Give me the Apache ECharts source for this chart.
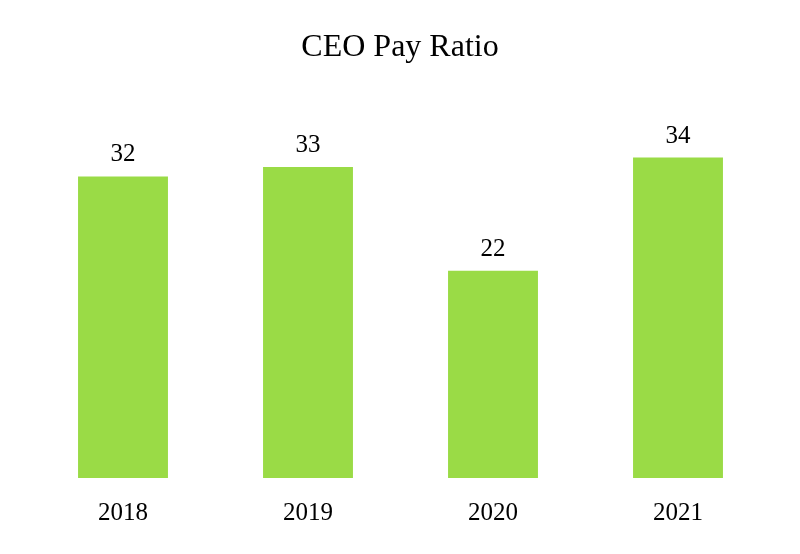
<!DOCTYPE html>
<html>
<head>
<meta charset="utf-8">
<script src="https://cdn.jsdelivr.net/npm/echarts@6/dist/echarts.min.js"></script>
<style>html,body{margin:0;padding:0;background:#fff}#c{width:800px;height:554px}</style>
</head>
<body>
<div id="c"></div>
<script>
const categories = ['2018', '2019', '2020', '2021'];
const ratios = [32, 33, 22, 34];
const titleText = 'CEO Pay Ratio';

const chart = echarts.init(document.getElementById('c'));
const serif = '"Liberation Serif", "Times New Roman", serif';
chart.setOption({
  animation: false,
  backgroundColor: '#ffffff',
  title: {
    text: titleText,
    left: 'center',
    top: 27,
    textStyle: { fontFamily: serif, fontSize: 32, fontWeight: 'normal', color: '#000' }
  },
  grid: { left: 30.5, right: 29.5, top: 101, bottom: 76 },
  xAxis: {
    type: 'category',
    data: categories,
    axisLine: { show: false },
    axisTick: { show: false },
    axisLabel: { fontFamily: serif, fontSize: 25, color: '#000', margin: 23 }
  },
  yAxis: {
    type: 'value',
    min: 0,
    max: 40,
    show: false,
    splitLine: { show: false }
  },
  series: [{
    type: 'bar',
    data: ratios,
    barWidth: '48.6%',
    itemStyle: { color: '#9ADB46' },
    label: {
      show: true,
      position: 'top',
      distance: 9,
      fontFamily: serif,
      fontSize: 25,
      color: '#000'
    }
  }]
});
</script>
</body>
</html>
